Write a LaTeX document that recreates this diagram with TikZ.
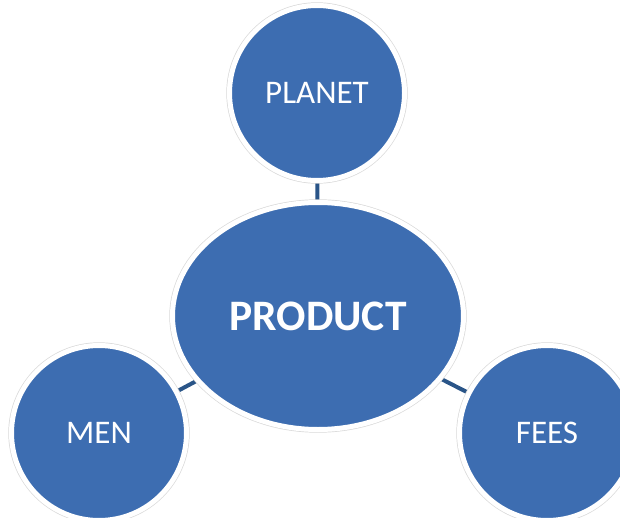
\documentclass[tikz,border=0pt]{standalone}
\usepackage{fontspec}
\setmainfont{Carlito}
\usetikzlibrary{shapes.geometric}
\definecolor{bubble}{HTML}{3D6DB1}
\definecolor{link}{HTML}{2A5588}
\begin{document}
\begin{tikzpicture}[x=1pt,y=-1pt,
  bubble/.style={fill=bubble, draw=white, line width=5pt, inner sep=0pt, outer sep=0pt,
    preaction={draw=black!15, line width=6.4pt}, text=white, font=\fontsize{33}{36}\selectfont},
  hub/.style={bubble, ellipse, minimum width=291pt, minimum height=227pt,
    font=\fontsize{43.5}{46}\selectfont\bfseries},
  satellite/.style={bubble, circle, minimum size=175pt},
  link/.style={draw=link, line width=4pt}]
  \useasboundingbox (0,0) rectangle (620,518);
  % centres
  \coordinate (cp) at (318,316);
  \coordinate (cpl) at (317,93);
  \coordinate (cm) at (99,433);
  \coordinate (cf) at (547,433);
  % connectors run centre to centre, hidden under the shapes
  \draw[link] (cpl) -- (cp);
  \draw[link] (cm) -- (cp);
  \draw[link] (cf) -- (cp);
  \node[hub] (product) at (cp) {PRODUCT};
  \node[satellite] (planet) at (cpl) {PLANET};
  \node[satellite] (men) at (cm) {MEN};
  \node[satellite] (fees) at (cf) {FEES};
\end{tikzpicture}
\end{document}
